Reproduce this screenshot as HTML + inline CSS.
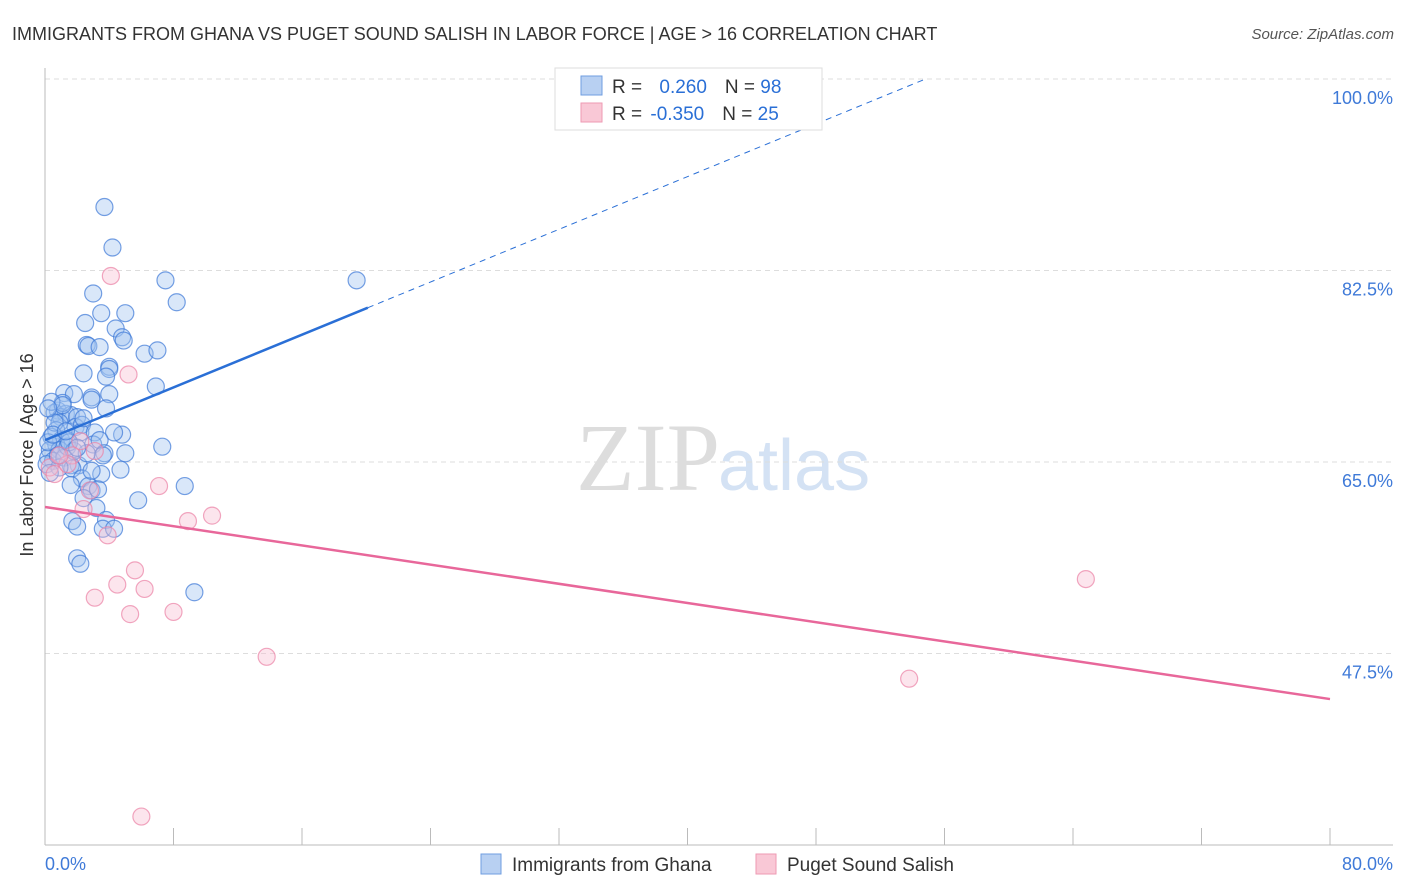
<!DOCTYPE html>
<html><head><meta charset="utf-8"><style>
body{margin:0;background:#fff;font-family:"Liberation Sans",sans-serif}
svg{display:block}
</style></head><body>
<svg width="1406" height="892" id="chart">
<text x="12" y="40" font-size="18" fill="#333">IMMIGRANTS FROM GHANA VS PUGET SOUND SALISH IN LABOR FORCE | AGE &gt; 16 CORRELATION CHART</text>
<text x="1394" y="39" font-size="15" fill="#555" font-style="italic" text-anchor="end">Source: ZipAtlas.com</text>
<text x="720" y="490" font-size="96" fill="#ddd" text-anchor="end" font-family="Liberation Serif">ZIP</text>
<text x="718" y="490" font-size="72" fill="#d4e2f4">atlas</text>
<text transform="translate(33,455) rotate(-90)" font-size="18" fill="#333" text-anchor="middle">In Labor Force | Age &gt; 16</text>
<g id="grid"></g><g id="axes"></g><g id="pts"></g><g id="lines"></g>
<g>
<rect x="555" y="68" width="267" height="62" fill="#fff" stroke="#ddd"/>
<rect x="581" y="76" width="21" height="19" fill="#b8d0f2" stroke="#6f9ee0"/>
<rect x="581" y="103" width="21" height="19" fill="#f9c8d6" stroke="#ee9ab3"/>
<text x="612" y="93" font-size="19" fill="#333">R = <tspan fill="#2a6fd6" dx="12">0.260</tspan><tspan fill="#333" dx="18">N = </tspan><tspan fill="#2a6fd6">98</tspan></text>
<text x="612" y="120" font-size="19" fill="#333">R = <tspan fill="#2a6fd6" dx="3">-0.350</tspan><tspan fill="#333" dx="18">N = </tspan><tspan fill="#2a6fd6">25</tspan></text>
</g>
<g>
<rect x="481" y="854" width="20" height="20" fill="#b8d0f2" stroke="#6f9ee0"/>
<text x="512" y="871" font-size="19" fill="#333">Immigrants from Ghana</text>
<rect x="756" y="854" width="20" height="20" fill="#f9c8d6" stroke="#ee9ab3"/>
<text x="787" y="871" font-size="19" fill="#333">Puget Sound Salish</text>
</g>
</svg>
<script>
const yTicks=[100,82.5,65,47.5];
const yTickLabels=["100.0%","82.5%","65.0%","47.5%"];
const xTickLabels=["0.0%","80.0%"];
const blueX=[3.7,4.2,7.5,8.2,3,5,3.5,2.5,4.4,4.8,4.9,2.6,2.7,3.4,6.2,7,4,4,2.4,3.8,6.9,1.2,1.8,2.9,2.9,4,3.8,0.8,0.6,1.3,1,1.6,2,0.9,1.9,2.3,0.7,0.4,1,1.4,2.2,3.1,4.8,4.3,3,3.4,0.7,0.3,0.9,0.2,0.5,1.2,3.7,3.6,5,7.3,2.1,1.6,1.7,4.7,3.5,2.3,1.6,2.7,2.9,8.7,5.8,2.4,3.2,1.7,2,3.8,3.6,4.3,2,2.2,9.3,19.4,0.6,0.2,0.1,0.9,0.3,1.4,1.8,2.6,0.8,1.1,0.4,1.5,2.4,0.5,1.1,2.9,3.3,0.2,1.3,2];
const blueY=[88.3,84.6,81.6,79.6,80.4,78.6,78.6,77.7,77.2,76.4,76.1,75.7,75.6,75.5,74.9,75.2,73.7,73.5,73.1,72.8,71.9,71.3,71.2,70.9,70.7,71.2,69.9,69.7,69.5,69.4,69.1,69.3,69.1,68.6,68.2,68.4,67.9,67.3,67,67,67.7,67.7,67.5,67.7,66.6,67,66.6,66.1,66.1,65.4,65.1,65.4,65.8,65.6,65.8,66.4,64.7,64.7,64.4,64.3,63.9,63.5,62.9,62.8,62.4,62.8,61.5,61.7,60.8,59.6,59.1,59.7,58.9,58.9,56.2,55.7,53.1,81.6,68.6,66.8,64.8,64.5,64,66.4,66,65.8,65.6,70.4,70.5,66.8,69,67.5,70.2,64.2,62.5,69.9,67.8,66.3];
const pinkX=[4.1,5.2,2.2,1.7,3.1,0.3,0.6,1.4,2.8,2.4,7.1,8.9,10.4,3.9,5.6,4.5,6.2,3.1,5.3,8,13.8,53.8,64.8,6,0.9];
const pinkY=[82,73,66.9,65.6,66,64.5,63.9,64.8,62.4,60.7,62.8,59.6,60.1,58.3,55.1,53.8,53.4,52.6,51.1,51.3,47.2,45.2,54.3,32.6,65.6];
const blueTrend=[67.0,0.602,20.1];
const pinkTrend=[60.89,-0.2194];
const NS="http://www.w3.org/2000/svg";
const X=v=>45+v/80*1285, Y=v=>79+(100-v)*10.943;
function mk(tag,attrs,parent){const e=document.createElementNS(NS,tag);for(const k in attrs)e.setAttribute(k,attrs[k]);document.getElementById(parent).appendChild(e);return e;}
yTicks.forEach((t,i)=>{
 const g=mk('line',{x1:45,x2:1393,y1:Y(t),y2:Y(t),stroke:'#ddd','stroke-dasharray':'5,4'},'grid');
 
 
 const l=mk('text',{x:1393,y:Y(t)+25,'font-size':18,fill:'#3f7ad8','text-anchor':'end'},'grid');
 l.textContent=yTickLabels[i];
 
 
});
mk('line',{x1:45,x2:45,y1:68,y2:845,stroke:'#bbb'},'axes');
mk('line',{x1:45,x2:1393,y1:845,y2:845,stroke:'#bbb'},'axes');
for(let i=1;i<=10;i++){const t=mk('line',{x1:X(i*8),x2:X(i*8),y1:828,y2:845,stroke:'#bbb'},'axes');
 
 }
[[0,'start',45],[80,'end',1393]].forEach((a,i)=>{const t=mk('text',{x:a[2],y:870,'font-size':18,fill:'#3f7ad8','text-anchor':a[1]},'axes');t.textContent=xTickLabels[i];
 
 });
blueX.forEach((x,i)=>{const c=mk('circle',{cx:X(x),cy:Y(blueY[i]),r:8.5,fill:'rgba(160,195,240,0.4)',stroke:'rgba(60,120,215,0.7)','stroke-width':1.2},'pts');
 
 });
pinkX.forEach((x,i)=>{const c=mk('circle',{cx:X(x),cy:Y(pinkY[i]),r:8.5,fill:'rgba(248,190,210,0.4)',stroke:'rgba(235,130,165,0.7)','stroke-width':1.2},'pts');
 
 });
const bt=x=>blueTrend[0]+blueTrend[1]*x;
let l1=mk('line',{x1:X(0),y1:Y(bt(0)),x2:X(blueTrend[2]),y2:Y(bt(blueTrend[2])),stroke:'#2a6fd6','stroke-width':2.5},'lines');


const xe=(100-blueTrend[0])/blueTrend[1];
let l2=mk('line',{x1:X(blueTrend[2]),y1:Y(bt(blueTrend[2])),x2:X(xe),y2:Y(100),stroke:'#2a6fd6','stroke-width':1,'stroke-dasharray':'6,5'},'lines');


let l3=mk('line',{x1:X(0),y1:Y(pinkTrend[0]),x2:X(80),y2:Y(pinkTrend[0]+pinkTrend[1]*80),stroke:'#e8679a','stroke-width':2.5},'lines');


</script>
</body></html>
